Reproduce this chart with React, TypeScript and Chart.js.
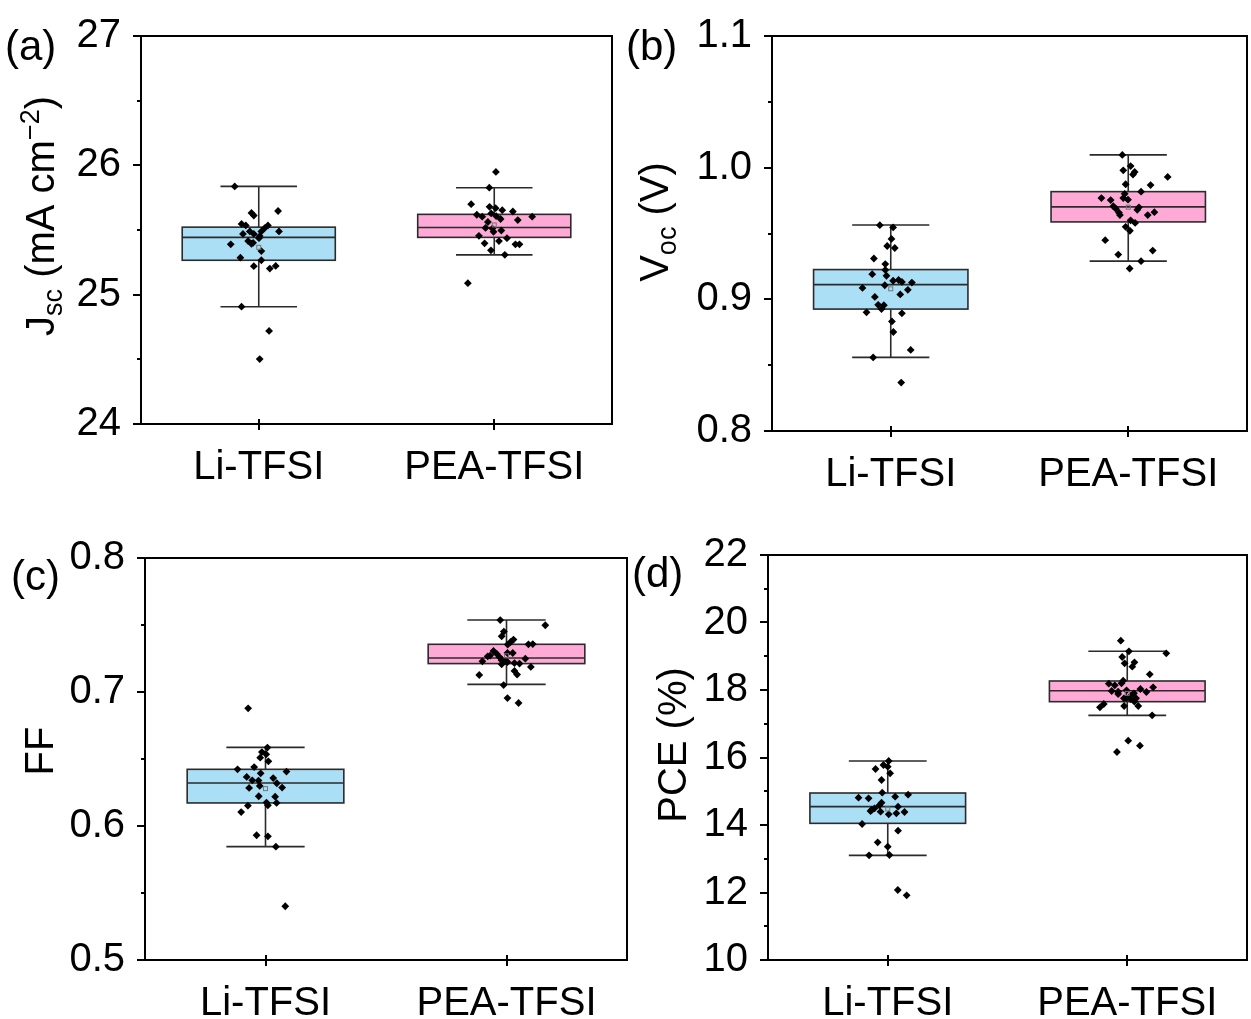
import React, { useEffect, useRef } from 'react';
import { Chart, registerables } from 'chart.js';

Chart.register(...registerables);

// ---------------- DATA ----------------
const categories = ['Li-TFSI', 'PEA-TFSI'];

// box stats: [whiskerLow, q1, median, q3, whiskerHigh, mean]
// (a) Jsc
const jscLiBox = [24.907, 25.266, 25.443, 25.522, 25.837, 25.366];
const jscPeaBox = [25.308, 25.443, 25.519, 25.621, 25.827, 25.539];
const jscLiValues = [25.837, 25.632, 25.612, 25.647, 25.547, 25.535, 25.535, 25.514, 25.489, 25.489, 25.47, 25.489, 25.47, 25.453, 25.437, 25.414, 25.401, 25.393, 25.389, 25.337, 25.286, 25.266, 25.22, 25.202, 25.222, 24.907, 24.72, 24.502];
const jscLiJitter = [-0.102, -0.031, -0.021, 0.082, -0.073, -0.055, 0.039, 0.025, 0.011, 0.086, -0.067, -0.038, -0.021, 0.004, 0.001, -0.045, -0.024, -0.031, -0.119, 0.011, -0.078, 0.011, -0.021, 0.047, 0.072, -0.073, 0.044, 0.004];
const jscPeaValues = [25.949, 25.827, 25.7, 25.679, 25.669, 25.653, 25.643, 25.618, 25.628, 25.603, 25.608, 25.603, 25.585, 25.577, 25.562, 25.516, 25.511, 25.496, 25.486, 25.455, 25.437, 25.414, 25.397, 25.389, 25.389, 25.343, 25.308, 25.089];
const jscPeaJitter = [0.007, -0.021, -0.098, -0.02, 0.006, 0.034, 0.079, -0.074, -0.013, -0.051, 0.008, 0.161, 0.027, 0.1, -0.027, -0.037, -0.008, 0.03, -0.003, -0.065, 0.054, 0.02, -0.041, 0.09, 0.107, -0.014, 0.045, -0.112];

// (b) Voc
const vocLiBox = [0.8559, 0.8926, 0.9112, 0.9226, 0.9565, 0.908];
const vocPeaBox = [0.929, 0.9588, 0.9702, 0.9818, 1.0097, 0.97];
const vocLiValues = [0.9563, 0.9546, 0.9459, 0.9405, 0.939, 0.931, 0.9268, 0.9223, 0.9191, 0.9179, 0.9141, 0.9147, 0.9132, 0.9127, 0.9107, 0.9087, 0.9072, 0.9037, 0.9018, 0.8958, 0.8955, 0.8926, 0.8901, 0.8894, 0.8832, 0.8752, 0.8616, 0.8559, 0.8368];
const vocLiJitter = [-0.046, 0.01, 0.003, -0.015, 0.017, -0.071, -0.023, -0.023, -0.078, -0.018, 0.01, 0.033, 0.047, 0.089, -0.025, -0.119, 0.072, 0.04, -0.067, -0.053, -0.029, -0.039, -0.102, 0.047, 0.005, 0.011, 0.084, -0.074, 0.044];
const vocPeaValues = [1.0097, 1.0012, 0.998, 0.9967, 0.9948, 0.993, 0.9874, 0.9868, 0.9818, 0.9801, 0.9769, 0.9754, 0.9769, 0.9757, 0.9707, 0.9699, 0.969, 0.968, 0.9658, 0.9662, 0.964, 0.964, 0.96, 0.958, 0.9551, 0.9521, 0.9449, 0.937, 0.934, 0.929, 0.9234];
const vocPeaJitter = [-0.025, 0.01, -0.021, 0.027, 0.02, 0.166, -0.011, 0.094, 0.054, -0.015, -0.113, -0.074, -0.021, -0.001, -0.063, 0.045, -0.053, 0.038, -0.039, 0.11, -0.035, 0.082, 0.01, 0.029, -0.011, 0.007, -0.097, 0.103, -0.042, 0.054, 0.006];

// (c) FF
const ffLiBox = [0.5846, 0.6172, 0.6321, 0.6423, 0.6587, 0.6279];
const ffPeaBox = [0.7057, 0.7212, 0.7254, 0.7356, 0.7537, 0.727];
const ffLiValues = [0.6878, 0.6585, 0.6552, 0.6535, 0.651, 0.6483, 0.644, 0.6423, 0.6406, 0.6393, 0.6366, 0.6358, 0.6341, 0.6339, 0.6319, 0.6299, 0.6284, 0.6287, 0.6222, 0.6219, 0.6175, 0.6154, 0.6172, 0.6152, 0.6104, 0.5931, 0.5923, 0.5846, 0.5401];
const ffLiJitter = [-0.072, 0.008, -0.015, 0.003, -0.022, 0.012, -0.047, -0.116, 0.087, -0.02, -0.078, 0.032, -0.055, -0.029, 0.047, -0.024, -0.068, 0.069, -0.028, 0.04, 0.004, 0.01, 0.046, -0.073, -0.101, -0.037, 0.01, 0.043, 0.082];
const ffPeaValues = [0.7537, 0.7498, 0.7451, 0.7416, 0.7391, 0.7373, 0.7354, 0.7356, 0.7358, 0.7306, 0.7286, 0.7291, 0.7291, 0.7272, 0.7266, 0.7261, 0.7249, 0.7237, 0.7231, 0.7229, 0.7224, 0.7216, 0.7212, 0.7207, 0.7187, 0.7157, 0.713, 0.7127, 0.7052, 0.6955, 0.6918];
const ffPeaJitter = [-0.026, 0.161, -0.011, -0.02, 0.029, 0.017, 0.005, 0.091, 0.109, -0.054, -0.041, 0.004, 0.026, -0.068, -0.078, -0.029, 0.078, -0.02, -0.005, -0.1, 0.004, 0.033, 0.054, -0.02, 0.101, 0.033, 0.044, -0.113, -0.012, 0.004, 0.05];

// (d) PCE
const pceLiBox = [13.101, 14.049, 14.543, 14.948, 15.896, 14.474];
const pcePeaBox = [17.249, 17.654, 17.98, 18.267, 19.146, 17.9];
const pceLiValues = [15.896, 15.778, 15.728, 15.659, 15.531, 15.333, 14.958, 14.899, 14.84, 14.81, 14.79, 14.661, 14.583, 14.543, 14.494, 14.444, 14.415, 14.394, 14.385, 14.346, 14.316, 14.03, 13.832, 13.487, 13.358, 13.101, 13.111, 12.074, 11.916];
const pceLiJitter = [0.004, -0.018, 0, -0.051, 0.01, -0.026, -0.023, 0.085, 0.031, -0.122, -0.08, -0.026, -0.035, 0.043, -0.055, -0.067, -0.072, -0.03, 0.07, 0.036, 0.004, -0.107, 0.043, -0.042, 0, -0.078, 0.007, 0.042, 0.079];
const pcePeaValues = [19.461, 19.146, 19.087, 18.978, 18.82, 18.79, 18.691, 18.465, 18.276, 18.198, 18.187, 18.138, 18.08, 18.03, 17.97, 17.99, 17.951, 17.941, 17.901, 17.881, 17.842, 17.763, 17.754, 17.754, 17.733, 17.654, 17.585, 17.486, 17.526, 17.526, 17.249, 16.498, 16.35, 16.163];
const pcePeaJitter = [-0.027, 0.007, 0.163, -0.021, 0.03, -0.011, 0.021, 0.094, -0.017, -0.024, -0.077, -0.052, 0.108, 0.055, -0.065, -0.003, -0.038, 0.08, 0.028, -0.038, 0.017, -0.003, -0.014, 0.037, 0.014, 0.03, -0.098, -0.114, -0.013, 0.046, 0.104, 0.004, 0.053, -0.043];

// y-axis tick settings: [min, max, majorStep, minorStep, decimals]
const jscAxis = [24, 27, 1, 0.5, 0];
const vocAxis = [0.8, 1.1, 0.1, 0.05, 1];
const ffAxis = [0.5, 0.8, 0.1, 0.05, 1];
const pceAxis = [10, 22, 2, 1, 0];

// ---------------- STYLE ----------------
const FONT = "'Liberation Sans', Arial, Helvetica, sans-serif";
const TICK_SIZE = 40;
const TITLE_SIZE = 40;
const SUB_SIZE = 27;
const LABEL_SIZE = 42;
const BOX_COLORS = ['#abdff6', '#ffa9d7'];
const BOX_WIDTH = 0.65;

type Seg = { t: string; m?: 'sub' | 'sup' };

type Spec = {
  key: string;
  label: string;
  box: { left: number; top: number; width: number; height: number };
  area: { left: number; top: number; right: number; bottom: number };
  axis: number[];
  title: Seg[];
  titleDx: number;
  titleCy: number;
  labelPos: [number, number];
  li: number[]; liJ: number[]; pea: number[]; peaJ: number[];
  liBox: number[]; peaBox: number[];
};

const specs: Spec[] = [
  {
    key: 'a', label: '(a)',
    box: { left: 0, top: 0, width: 625, height: 500 },
    area: { left: 141, top: 31, right: 612, bottom: 424 },
    axis: jscAxis,
    title: [{ t: 'J' }, { t: 'sc', m: 'sub' }, { t: ' (mA cm' }, { t: '\u22122', m: 'sup' }, { t: ')' }],
    titleDx: -87, titleCy: 216, labelPos: [5, 60],
    li: jscLiValues, liJ: jscLiJitter, pea: jscPeaValues, peaJ: jscPeaJitter,
    liBox: jscLiBox, peaBox: jscPeaBox,
  },
  {
    key: 'b', label: '(b)',
    box: { left: 625, top: 0, width: 626, height: 500 },
    area: { left: 147, top: 28, right: 624, bottom: 431 },
    axis: vocAxis,
    title: [{ t: 'V' }, { t: 'oc', m: 'sub' }, { t: ' (V)' }],
    titleDx: -104, titleCy: 222, labelPos: [1, 60],
    li: vocLiValues, liJ: vocLiJitter, pea: vocPeaValues, peaJ: vocPeaJitter,
    liBox: vocLiBox, peaBox: vocPeaBox,
  },
  {
    key: 'c', label: '(c)',
    box: { left: 0, top: 500, width: 632, height: 519 },
    area: { left: 145, top: 58, right: 627, bottom: 460 },
    axis: ffAxis,
    title: [{ t: 'FF' }],
    titleDx: -92, titleCy: 251, labelPos: [11, 90],
    li: ffLiValues, liJ: ffLiJitter, pea: ffPeaValues, peaJ: ffPeaJitter,
    liBox: ffLiBox, peaBox: ffPeaBox,
  },
  {
    key: 'd', label: '(d)',
    box: { left: 632, top: 500, width: 619, height: 519 },
    area: { left: 136, top: 55, right: 617, bottom: 460 },
    axis: pceAxis,
    title: [{ t: 'PCE (%)' }],
    titleDx: -82, titleCy: 245, labelPos: [0, 87],
    li: pceLiValues, liJ: pceLiJitter, pea: pcePeaValues, peaJ: pcePeaJitter,
    liBox: pceLiBox, peaBox: pcePeaBox,
  },
];

function makePlugin(spec: Spec) {
  const [yMin, yMax, step, minor] = spec.axis;
  return {
    id: 'boxes_' + spec.key,
    beforeDatasetsDraw(chart: any) {
      const ctx = chart.ctx;
      const xs = chart.scales.x;
      const ys = chart.scales.y;
      [spec.liBox, spec.peaBox].forEach((b, i) => {
        const [lo, q1, med, q3, hi] = b;
        const cx = xs.getPixelForValue(i);
        const half = xs.getPixelForValue(i + BOX_WIDTH / 2) - cx;
        const cap = half / 2;
        const yq1 = ys.getPixelForValue(q1);
        const yq3 = ys.getPixelForValue(q3);
        const ymed = ys.getPixelForValue(med);
        const ylo = ys.getPixelForValue(lo);
        const yhi = ys.getPixelForValue(hi);
        ctx.save();
        ctx.fillStyle = BOX_COLORS[i];
        ctx.fillRect(cx - half, yq3, 2 * half, yq1 - yq3);
        ctx.strokeStyle = '#2b2b2b';
        ctx.lineWidth = 1.6;
        ctx.strokeRect(cx - half, yq3, 2 * half, yq1 - yq3);
        ctx.beginPath();
        ctx.moveTo(cx - half, ymed);
        ctx.lineTo(cx + half, ymed);
        ctx.moveTo(cx, yq3);
        ctx.lineTo(cx, yhi);
        ctx.moveTo(cx - cap, yhi);
        ctx.lineTo(cx + cap, yhi);
        ctx.moveTo(cx, yq1);
        ctx.lineTo(cx, ylo);
        ctx.moveTo(cx - cap, ylo);
        ctx.lineTo(cx + cap, ylo);
        ctx.stroke();
        ctx.restore();
      });
    },
    afterDatasetsDraw(chart: any) {
      const ctx = chart.ctx;
      const xs = chart.scales.x;
      const ys = chart.scales.y;
      [spec.liBox, spec.peaBox].forEach((b, i) => {
        const cx = xs.getPixelForValue(i);
        const my = ys.getPixelForValue(b[5]);
        ctx.save();
        ctx.strokeStyle = '#777';
        ctx.lineWidth = 1;
        ctx.strokeRect(cx - 2, my - 2, 4, 4);
        ctx.restore();
      });
    },
    afterDraw(chart: any) {
      const ctx = chart.ctx;
      const a = chart.chartArea;
      const xs = chart.scales.x;
      const ys = chart.scales.y;
      ctx.save();
      ctx.strokeStyle = '#000';
      ctx.lineWidth = 2;
      ctx.strokeRect(a.left, a.top, a.right - a.left, a.bottom - a.top);
      ctx.beginPath();
      const n = Math.round((yMax - yMin) / minor);
      for (let k = 0; k <= n; k++) {
        const v = yMin + k * minor;
        const r = v / step;
        const major = Math.abs(r - Math.round(r)) < 1e-6;
        const py = Math.round(ys.getPixelForValue(v));
        const len = major ? 8 : 4;
        ctx.moveTo(a.left - len, py);
        ctx.lineTo(a.left, py);
      }
      for (let i = 0; i < categories.length; i++) {
        const px = Math.round(xs.getPixelForValue(i));
        ctx.moveTo(px, a.bottom - 5);
        ctx.lineTo(px, a.bottom + 6);
      }
      ctx.stroke();

      // y-axis title (rotated, with sub/superscripts)
      const segFont = (s: Seg) => `${s.m ? SUB_SIZE : TITLE_SIZE}px ${FONT}`;
      let total = 0;
      const widths = spec.title.map((s) => {
        ctx.font = segFont(s);
        const w = ctx.measureText(s.t).width;
        total += w;
        return w;
      });
      ctx.translate(a.left + spec.titleDx, spec.titleCy);
      ctx.rotate(-Math.PI / 2);
      ctx.fillStyle = '#000';
      ctx.textBaseline = 'alphabetic';
      ctx.textAlign = 'left';
      let x = -total / 2;
      spec.title.forEach((s, i) => {
        ctx.font = segFont(s);
        const dy = s.m === 'sub' ? 8 : s.m === 'sup' ? -15 : 0;
        ctx.fillText(s.t, x, dy);
        x += widths[i];
      });
      ctx.restore();

      ctx.save();
      ctx.fillStyle = '#000';
      ctx.font = `${LABEL_SIZE}px ${FONT}`;
      ctx.textBaseline = 'alphabetic';
      ctx.textAlign = 'left';
      ctx.fillText(spec.label, spec.labelPos[0], spec.labelPos[1]);
      ctx.restore();
    },
  };
}

function Panel({ spec }: { spec: Spec }) {
  const ref = useRef<HTMLCanvasElement | null>(null);
  useEffect(() => {
    const canvas = ref.current;
    if (!canvas) return;
    const [yMin, yMax, step, , dec] = spec.axis;
    const majors: number[] = [];
    const nm = Math.round((yMax - yMin) / step);
    for (let k = 0; k <= nm; k++) majors.push(+(yMin + k * step).toFixed(6));
    const pts = (vals: number[], jit: number[], idx: number) =>
      vals.map((v, k) => ({ x: idx + jit[k], y: v }));
    const pointStyle = {
      pointStyle: 'rectRot' as const,
      pointRadius: 3.9,
      pointBackgroundColor: '#000',
      pointBorderColor: '#000',
      pointBorderWidth: 0,
      showLine: false,
    };
    const chart = new Chart(canvas, {
      type: 'scatter',
      data: {
        datasets: [
          { label: categories[0], data: pts(spec.li, spec.liJ, 0), ...pointStyle },
          { label: categories[1], data: pts(spec.pea, spec.peaJ, 1), ...pointStyle },
        ],
      },
      options: {
        animation: false,
        responsive: false,
        maintainAspectRatio: false,
        events: [],
        layout: {
          padding: {
            left: 0,
            top: spec.area.top,
            right: spec.box.width - spec.area.right,
            bottom: 0,
          },
        },
        plugins: { legend: { display: false }, tooltip: { enabled: false } },
        scales: {
          x: {
            type: 'linear',
            min: -0.5,
            max: 1.5,
            grid: { display: false },
            border: { display: false },
            afterBuildTicks: (s: any) => {
              s.ticks = categories.map((_, i) => ({ value: i }));
            },
            afterFit: (s: any) => {
              s.height = spec.box.height - spec.area.bottom;
            },
            ticks: {
              autoSkip: false,
              maxRotation: 0,
              padding: 12,
              color: '#000',
              font: { family: FONT, size: TICK_SIZE },
              callback: (v: any) => categories[Math.round(Number(v))] ?? '',
            },
          },
          y: {
            type: 'linear',
            min: yMin,
            max: yMax,
            grid: { display: false },
            border: { display: false },
            afterBuildTicks: (s: any) => {
              s.ticks = majors.map((v) => ({ value: v }));
            },
            afterFit: (s: any) => {
              s.width = spec.area.left;
            },
            ticks: {
              padding: 12,
              color: '#000',
              font: { family: FONT, size: TICK_SIZE },
              callback: (v: any) => Number(v).toFixed(dec),
            },
          },
        },
      },
      plugins: [makePlugin(spec)],
    } as any);
    return () => chart.destroy();
  }, [spec]);
  return (
    <canvas
      ref={ref}
      width={spec.box.width}
      height={spec.box.height}
      style={{
        position: 'absolute',
        left: spec.box.left,
        top: spec.box.top,
        width: spec.box.width,
        height: spec.box.height,
      }}
    />
  );
}

export default function App() {
  return (
    <div
      style={{
        position: 'absolute',
        left: 0,
        top: 0,
        width: 1251,
        height: 1019,
        background: '#fff',
        overflow: 'hidden',
      }}
    >
      {specs.map((s) => (
        <Panel key={s.key} spec={s} />
      ))}
    </div>
  );
}
